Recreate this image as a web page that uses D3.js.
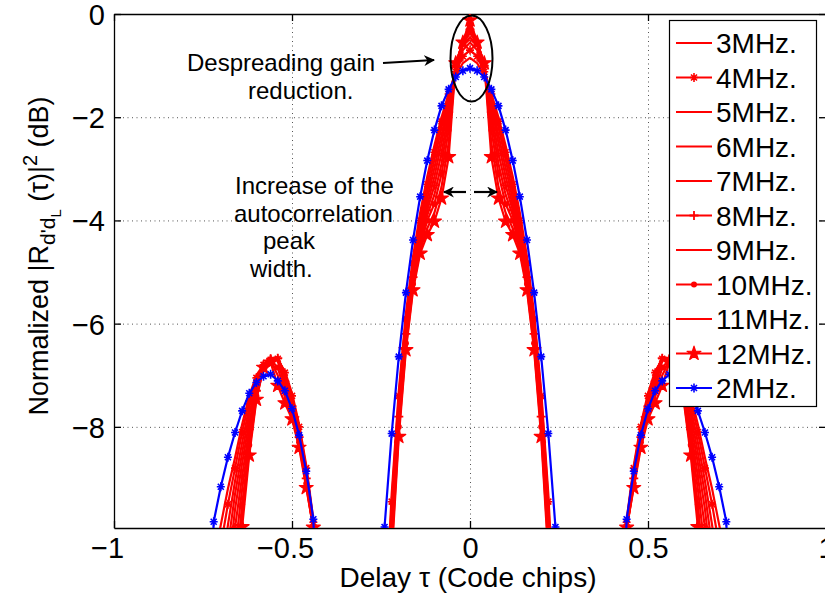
<!DOCTYPE html>
<html>
<head>
<meta charset="utf-8">
<script src="https://cdn.jsdelivr.net/npm/d3@7"></script>
<style>
  body { margin: 0; background: #fff; }
  svg { display: block; font-family: "Liberation Sans", Arial, sans-serif; }
</style>
</head>
<body>
<div id="chart"></div>
<script>
// delay grids (code chips)
const delayMain = [-0.26, -0.24, -0.22, -0.20, -0.18, -0.16, -0.14, -0.12, -0.10, -0.08, -0.06, -0.04, -0.02, 0,
  0.02, 0.04, 0.06, 0.08, 0.10, 0.12, 0.14, 0.16, 0.18, 0.20, 0.22, 0.24, 0.26];
const delayLeft = [-0.74, -0.72, -0.70, -0.68, -0.66, -0.64, -0.62, -0.60, -0.58, -0.56, -0.54, -0.52, -0.50, -0.48, -0.46, -0.44, -0.42];
const delayRight = [0.42, 0.44, 0.46, 0.48, 0.50, 0.52, 0.54, 0.56, 0.58, 0.60, 0.62, 0.64, 0.66, 0.68, 0.70, 0.72, 0.74];

const xTicks = [-1, -0.5, 0, 0.5, 1];
const yTicks = [0, -2, -4, -6, -8];

// normalized |R|^2 in dB
const mhz3Main = [null, -12, -9.3, -7.3, -5.8, -4.7, -3.85, -3.15, -2.55, -2.0, -1.55, -1.2, -0.95, -0.85, -0.95, -1.2, -1.55, -2.0, -2.55, -3.15, -3.85, -4.7, -5.8, -7.3, -9.3, -12, null];
const mhz3Left = [null, -10.6, -9.9, -9.2, -8.6, -7.95, -7.4, -7.0, -6.8, -6.72, -6.7, -6.92, -7.35, -7.95, -8.75, -9.8, -14];
const mhz3Right = [-14, -9.8, -8.75, -7.95, -7.35, -6.92, -6.7, -6.72, -6.8, -7.0, -7.4, -7.95, -8.6, -9.2, -9.9, -10.6, null];

const mhz4Main = [null, -12.5, -9.45, -7.4, -5.9, -4.82, -4.0, -3.3, -2.68, -2.08, -1.55, -1.12, -0.82, -0.7, -0.82, -1.12, -1.55, -2.08, -2.68, -3.3, -4.0, -4.82, -5.9, -7.4, -9.45, -12.5, null];
const mhz4Left = [null, -11.5, -10.3, -9.5, -8.8, -8.1, -7.5, -7.05, -6.8, -6.7, -6.68, -6.95, -7.4, -8.0, -8.8, -9.85, -14];
const mhz4Right = [-14, -9.85, -8.8, -8.0, -7.4, -6.95, -6.68, -6.7, -6.8, -7.05, -7.5, -8.1, -8.8, -9.5, -10.3, -11.5, null];

const mhz5Main = [null, -13, -9.6, -7.5, -5.95, -4.9, -4.1, -3.45, -2.82, -2.2, -1.6, -1.08, -0.7, -0.55, -0.7, -1.08, -1.6, -2.2, -2.82, -3.45, -4.1, -4.9, -5.95, -7.5, -9.6, -13, null];
const mhz5Left = [null, null, -11.0, -9.9, -9.05, -8.3, -7.62, -7.1, -6.8, -6.68, -6.66, -6.97, -7.45, -8.05, -8.85, -9.9, -14];
const mhz5Right = [-14, -9.9, -8.85, -8.05, -7.45, -6.97, -6.66, -6.68, -6.8, -7.1, -7.62, -8.3, -9.05, -9.9, -11.0, null, null];

const mhz6Main = [null, -13, -9.75, -7.6, -6.05, -4.98, -4.2, -3.58, -2.98, -2.35, -1.68, -1.05, -0.62, -0.45, -0.62, -1.05, -1.68, -2.35, -2.98, -3.58, -4.2, -4.98, -6.05, -7.6, -9.75, -13, null];
const mhz6Left = [null, null, -11.8, -10.3, -9.3, -8.5, -7.75, -7.18, -6.82, -6.68, -6.65, -7.0, -7.5, -8.1, -8.9, -9.92, -14];
const mhz6Right = [-14, -9.92, -8.9, -8.1, -7.5, -7.0, -6.65, -6.68, -6.82, -7.18, -7.75, -8.5, -9.3, -10.3, -11.8, null, null];

const mhz7Main = [null, -13, -9.9, -7.7, -6.15, -5.05, -4.28, -3.7, -3.15, -2.5, -1.78, -1.02, -0.58, -0.37, -0.58, -1.02, -1.78, -2.5, -3.15, -3.7, -4.28, -5.05, -6.15, -7.7, -9.9, -13, null];
const mhz7Left = [null, null, null, -10.8, -9.6, -8.7, -7.9, -7.25, -6.85, -6.68, -6.65, -7.05, -7.55, -8.15, -8.95, -9.95, -14];
const mhz7Right = [-14, -9.95, -8.95, -8.15, -7.55, -7.05, -6.65, -6.68, -6.85, -7.25, -7.9, -8.7, -9.6, -10.8, null, null, null];

const mhz8Main = [null, -13, -10.0, -7.8, -6.2, -5.1, -4.35, -3.8, -3.32, -2.7, -1.9, -1.0, -0.55, -0.3, -0.55, -1.0, -1.9, -2.7, -3.32, -3.8, -4.35, -5.1, -6.2, -7.8, -10.0, -13, null];
const mhz8Left = [null, null, null, -11.5, -9.95, -8.95, -8.05, -7.3, -6.85, -6.68, -6.67, -7.12, -7.6, -8.2, -9.0, -9.97, -14];
const mhz8Right = [-14, -9.97, -9.0, -8.2, -7.6, -7.12, -6.67, -6.68, -6.85, -7.3, -8.05, -8.95, -9.95, -11.5, null, null, null];

const mhz9Main = [null, -13, -10.1, -7.9, -6.3, -5.18, -4.42, -3.9, -3.5, -2.9, -2.05, -0.98, -0.55, -0.25, -0.55, -0.98, -2.05, -2.9, -3.5, -3.9, -4.42, -5.18, -6.3, -7.9, -10.1, -13, null];
const mhz9Left = [null, null, null, -12.3, -10.4, -9.2, -8.2, -7.35, -6.85, -6.68, -6.72, -7.22, -7.68, -8.25, -9.05, -9.98, -14];
const mhz9Right = [-14, -9.98, -9.05, -8.25, -7.68, -7.22, -6.72, -6.68, -6.85, -7.35, -8.2, -9.2, -10.4, -12.3, null, null, null];

const mhz10Main = [null, -13, -10.2, -8.0, -6.38, -5.23, -4.5, -4.0, -3.68, -3.1, -2.25, -0.97, -0.55, -0.2, -0.55, -0.97, -2.25, -3.1, -3.68, -4.0, -4.5, -5.23, -6.38, -8.0, -10.2, -13, null];
const mhz10Left = [null, null, null, null, -10.9, -9.5, -8.35, -7.4, -6.86, -6.7, -6.85, -7.32, -7.74, -8.3, -9.1, -9.98, -14];
const mhz10Right = [-14, -9.98, -9.1, -8.3, -7.74, -7.32, -6.85, -6.7, -6.86, -7.4, -8.35, -9.5, -10.9, null, null, null, null];

const mhz11Main = [null, -13, -10.35, -8.1, -6.45, -5.3, -4.57, -4.15, -3.85, -3.35, -2.5, -0.96, -0.55, -0.16, -0.55, -0.96, -2.5, -3.35, -3.85, -4.15, -4.57, -5.3, -6.45, -8.1, -10.35, -13, null];
const mhz11Left = [null, null, null, null, -11.5, -9.75, -8.45, -7.44, -6.86, -6.72, -7.0, -7.42, -7.8, -8.35, -9.14, -9.98, -14];
const mhz11Right = [-14, -9.98, -9.14, -8.35, -7.8, -7.42, -7.0, -6.72, -6.86, -7.44, -8.45, -9.75, -11.5, null, null, null, null];

const mhz12Main = [null, -13, -10.5, -8.19, -6.51, -5.35, -4.64, -4.28, -4.02, -3.57, -2.77, -0.95, -0.55, -0.12, -0.55, -0.95, -2.77, -3.57, -4.02, -4.28, -4.64, -5.35, -6.51, -8.19, -10.5, -13, null];
const mhz12Left = [null, null, null, null, -12.2, -9.94, -8.55, -7.47, -6.85, -6.75, -7.2, -7.54, -7.85, -8.4, -9.18, -9.95, -14];
const mhz12Right = [-14, -9.95, -9.18, -8.4, -7.85, -7.54, -7.2, -6.75, -6.85, -7.47, -8.55, -9.94, -12.2, null, null, null, null];

const mhz2Main = [-14, -9.94, -8.13, -6.64, -5.40, -4.38, -3.54, -2.84, -2.25, -1.78, -1.46, -1.22, -1.10, -1.05, -1.10, -1.22, -1.46, -1.78, -2.25, -2.84, -3.54, -4.38, -5.40, -6.64, -8.13, -9.94, -14];
const mhz2Left = [-14, -9.84, -9.16, -8.59, -8.11, -7.69, -7.35, -7.14, -7.02, -6.98, -7.11, -7.30, -7.65, -8.16, -8.86, -9.79, -14];
const mhz2Right = [-14, -9.79, -8.86, -8.16, -7.65, -7.30, -7.11, -6.98, -7.02, -7.14, -7.35, -7.69, -8.11, -8.59, -9.16, -9.84, -14];

const seriesNames = ['3MHz.', '4MHz.', '5MHz.', '6MHz.', '7MHz.', '8MHz.', '9MHz.', '10MHz.', '11MHz.', '12MHz.', '2MHz.'];
const seriesMarkers = [null, 'asterisk', null, null, null, 'plus', null, 'dot', null, 'star', 'asterisk'];
const seriesColors = ['#ff0000', '#ff0000', '#ff0000', '#ff0000', '#ff0000', '#ff0000', '#ff0000', '#ff0000', '#ff0000', '#ff0000', '#0000ff'];
const seriesData = [
  [mhz3Main, mhz3Left, mhz3Right], [mhz4Main, mhz4Left, mhz4Right], [mhz5Main, mhz5Left, mhz5Right],
  [mhz6Main, mhz6Left, mhz6Right], [mhz7Main, mhz7Left, mhz7Right], [mhz8Main, mhz8Left, mhz8Right],
  [mhz9Main, mhz9Left, mhz9Right], [mhz10Main, mhz10Left, mhz10Right], [mhz11Main, mhz11Left, mhz11Right],
  [mhz12Main, mhz12Left, mhz12Right], [mhz2Main, mhz2Left, mhz2Right]
];

const width = 825, height = 596;
const svg = d3.select('#chart').append('svg').attr('width', width).attr('height', height);
svg.append('rect').attr('width', width).attr('height', height).attr('fill', '#fff');

const x = d3.scaleLinear().domain([-1, 1]).range([114, 826]);
const y = d3.scaleLinear().domain([-9.96, 0]).range([528, 14]);
const [x0, x1] = x.range(), [y0, y1] = y.range();

svg.append('clipPath').attr('id', 'plotClip')
  .append('rect').attr('x', x0).attr('y', y1).attr('width', x1 - x0).attr('height', y0 - y1);

// dotted grid
const grid = svg.append('g').attr('stroke', '#555').attr('stroke-width', 1).attr('stroke-dasharray', '1,3.5');
grid.selectAll('.gx').data([-0.5, 0, 0.5]).enter().append('line')
  .attr('x1', (d) => x(d) + 0.5).attr('x2', (d) => x(d) + 0.5).attr('y1', y1).attr('y2', y0);
grid.selectAll('.gy').data([-2, -4, -6, -8]).enter().append('line')
  .attr('y1', (d) => y(d) + 0.5).attr('y2', (d) => y(d) + 0.5).attr('x1', x0).attr('x2', x1);

// axes, box with inward ticks
const fmt = (d) => d3.format('')(d).replace('-', '\u2212');
const axB = svg.append('g').attr('transform', `translate(0,${y0})`)
  .call(d3.axisBottom(x).tickValues(xTicks).tickSizeInner(-7).tickSizeOuter(0).tickPadding(9).tickFormat(fmt));
const axT = svg.append('g').attr('transform', `translate(0,${y1})`)
  .call(d3.axisTop(x).tickValues(xTicks).tickSizeInner(-7).tickSizeOuter(0).tickFormat(''));
const axL = svg.append('g').attr('transform', `translate(${x0},0)`)
  .call(d3.axisLeft(y).tickValues(yTicks).tickSizeInner(-7).tickSizeOuter(0).tickPadding(9).tickFormat(fmt));
const axR = svg.append('g').attr('transform', `translate(${x1},0)`)
  .call(d3.axisRight(y).tickValues(yTicks).tickSizeInner(-7).tickSizeOuter(0).tickFormat(''));
[axB, axT, axL, axR].forEach((a) => {
  a.select('.domain').attr('stroke', '#000').attr('stroke-width', 1.3);
  a.selectAll('.tick line').attr('stroke', '#000').attr('stroke-width', 1.3);
  a.selectAll('text').attr('font-family', '"Liberation Sans", Arial, sans-serif').attr('font-size', 29).attr('fill', '#000');
});
// MATLAB-style: negative labels sit slightly left of their tick
axB.selectAll('.tick text').attr('dx', (d) => (d < 0 ? -7 : 0));
axL.selectAll('.tick text').attr('dy', '0.36em');

// markers
function markerNode(g, type, color) {
  if (type === 'asterisk') {
    g.append('path').attr('d', 'M-4,0H4M0,-4.5V4.5M-3,-3L3,3M-3,3L3,-3')
      .attr('stroke', color).attr('stroke-width', 1.6).attr('fill', 'none');
  } else if (type === 'plus') {
    g.append('path').attr('d', 'M-4.5,0H4.5M0,-4.5V4.5')
      .attr('stroke', color).attr('stroke-width', 1.8).attr('fill', 'none');
  } else if (type === 'dot') {
    g.append('circle').attr('r', 3).attr('fill', color);
  } else if (type === 'star') {
    g.append('path').attr('d', d3.symbol(d3.symbolStar, 60)())
      .attr('fill', color).attr('stroke', color).attr('stroke-width', 1.2).attr('stroke-linejoin', 'round');
  }
}

const line = d3.line().defined((d) => d[1] !== null).x((d) => x(d[0])).y((d) => y(d[1]));
const plot = svg.append('g').attr('clip-path', 'url(#plotClip)');
const grids = [delayMain, delayLeft, delayRight];

seriesData.forEach((segs, i) => {
  const color = seriesColors[i];
  const sg = plot.append('g');
  segs.forEach((vals, k) => {
    const pts = grids[k].map((dx, j) => [dx, vals[j]]);
    sg.append('path').datum(pts).attr('d', line)
      .attr('fill', 'none').attr('stroke', color).attr('stroke-width', 2.2).attr('stroke-linejoin', 'round');
    if (seriesMarkers[i]) {
      pts.filter((p) => p[1] !== null).forEach((p) => {
        const m = sg.append('g').attr('transform', `translate(${x(p[0])},${y(p[1])})`);
        markerNode(m, seriesMarkers[i], color);
      });
    }
  });
});

// annotations
const ann = svg.append('g').attr('font-size', 24).attr('fill', '#000');
ann.append('text').attr('x', 187).attr('y', 71).text('Despreading gain');
ann.append('text').attr('x', 248).attr('y', 99).text('reduction.');
ann.append('text').attr('x', 235).attr('y', 194).text('Increase of the');
ann.append('text').attr('x', 234).attr('y', 222).text('autocorrelation');
ann.append('text').attr('x', 263).attr('y', 249).text('peak');
ann.append('text').attr('x', 250).attr('y', 277).text('width.');

svg.append('defs').append('marker').attr('id', 'head')
  .attr('viewBox', '0 0 10 10').attr('refX', 9).attr('refY', 5)
  .attr('markerWidth', 5).attr('markerHeight', 5).attr('orient', 'auto-start-reverse')
  .append('path').attr('d', 'M0,0L10,5L0,10L3,5Z').attr('fill', '#000');
const arrows = [[383, 63, 434, 60], [466, 192, 444, 192], [474, 192, 497, 192]];
svg.selectAll('.arrow').data(arrows).enter().append('line')
  .attr('x1', (d) => d[0]).attr('y1', (d) => d[1]).attr('x2', (d) => d[2]).attr('y2', (d) => d[3])
  .attr('stroke', '#000').attr('stroke-width', 2.2).attr('marker-end', 'url(#head)');
svg.append('ellipse').attr('cx', 471.5).attr('cy', 58.5).attr('rx', 21).attr('ry', 43)
  .attr('fill', 'none').attr('stroke', '#000').attr('stroke-width', 2);

// axis labels
svg.append('text').attr('x', 468).attr('y', 587).attr('text-anchor', 'middle')
  .attr('font-size', 28).text('Delay \u03c4 (Code chips)');
const yl = svg.append('text').attr('transform', 'translate(48,256) rotate(-90)')
  .attr('text-anchor', 'middle').attr('font-size', 27);
yl.append('tspan').text('Normalized |R');
yl.append('tspan').attr('dy', 7).attr('font-size', 21).text('d\'d');
yl.append('tspan').attr('dy', 6).attr('font-size', 15).text('L');
yl.append('tspan').attr('dy', -13).text(' (\u03c4)|');
yl.append('tspan').attr('dy', -11).attr('font-size', 20).text('2');
yl.append('tspan').attr('dy', 11).text(' (dB)');

// legend
const lg = svg.append('g');
lg.append('rect').attr('x', 669.5).attr('y', 20.5).attr('width', 147).attr('height', 386)
  .attr('fill', '#fff').attr('stroke', '#000').attr('stroke-width', 1.2);
seriesNames.forEach((name, i) => {
  const cy = 43 + i * 34.5;
  lg.append('line').attr('x1', 676).attr('x2', 712).attr('y1', cy).attr('y2', cy)
    .attr('stroke', seriesColors[i]).attr('stroke-width', 2.2);
  if (seriesMarkers[i]) markerNode(lg.append('g').attr('transform', `translate(694,${cy})`), seriesMarkers[i], seriesColors[i]);
  lg.append('text').attr('x', 716).attr('y', cy).attr('dy', '0.36em').attr('font-size', 28).text(name);
});
</script>
</body>
</html>
